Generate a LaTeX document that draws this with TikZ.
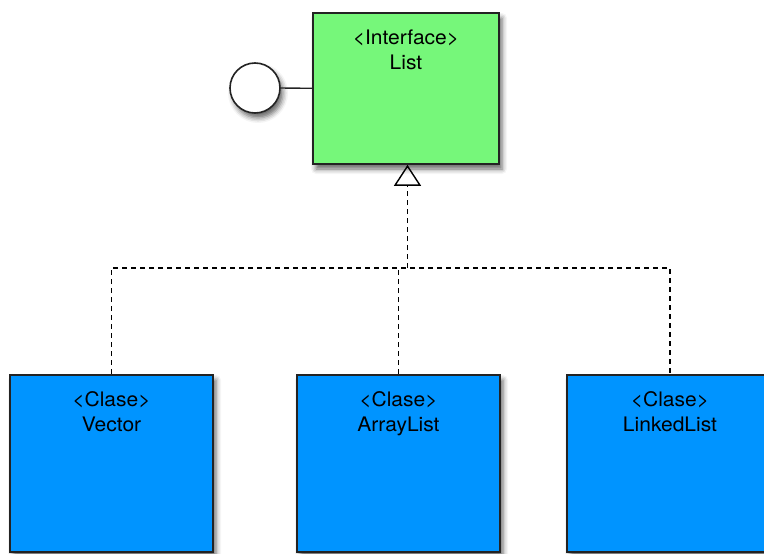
\documentclass[tikz,border=0pt]{standalone}
\usepackage{fontspec}
\setmainfont{TeX Gyre Heros}
\usetikzlibrary{arrows.meta,shadows.blur}

\definecolor{ifacegreen}{RGB}{118,247,122}
\definecolor{classblue}{RGB}{0,148,255}
\definecolor{edgegray}{RGB}{35,35,35}

\begin{document}
\begin{tikzpicture}[x=1pt, y=-1pt,
    umlbox/.style={rectangle, draw=edgegray, line width=1.6pt, inner sep=0pt,
        blur shadow={shadow xshift=3pt, shadow yshift=-5pt, shadow blur radius=5pt, shadow opacity=60}},
    umltext/.style={align=center, anchor=north, inner sep=0pt, yshift=-17pt, xscale=1.05,
        font=\fontsize{20}{25.5}\selectfont},
    realize/.style={draw=black, line width=1.3pt, dash pattern=on 5pt off 4pt}]

    % page frame, the class boxes run off the bottom
    \useasboundingbox (0,0) rectangle (764,554);
    \clip (0,0) rectangle (764,554);

    % ================= INTERFACE =================
    \node[umlbox, fill=ifacegreen, minimum width=186pt, minimum height=151pt,
        label={[umltext]north:{<Interface>\\List}}] (list) at (406,88.5) {};
    \node[circle, draw=edgegray, line width=1.6pt, fill=white, minimum size=50pt, inner sep=0pt,
        blur shadow={shadow xshift=3pt, shadow yshift=-5pt, shadow blur radius=5pt, shadow opacity=60}] (iface) at (255,88) {};
    \draw[edgegray, line width=1.3pt] (iface) -- (list);

    % ================= CLASSES =================
    \node[umlbox, fill=classblue, minimum width=203pt, minimum height=177pt,
        label={[umltext]north:{<Clase>\\Vector}}] (vector) at (111.5,463.5) {};
    \node[umlbox, fill=classblue, minimum width=203pt, minimum height=177pt,
        label={[umltext]north:{<Clase>\\ArrayList}}] (arraylist) at (398.5,463.5) {};
    \node[umlbox, fill=classblue, minimum width=206pt, minimum height=177pt,
        label={[umltext]north:{<Clase>\\LinkedList}}] (linkedlist) at (670,463.5) {};

    % ================= REALIZATION =================
    \coordinate (joint) at (407.5,268);
    \draw[realize] (vector.north) |- (joint) -| (linkedlist.north);
    \draw[realize] (arraylist.north) -- (arraylist.north |- joint);
    \draw[realize, -{Triangle[open, length=21pt, width=27pt, line width=1.4pt]}]
        (joint) -- (joint |- list.south);

\end{tikzpicture}
\end{document}
